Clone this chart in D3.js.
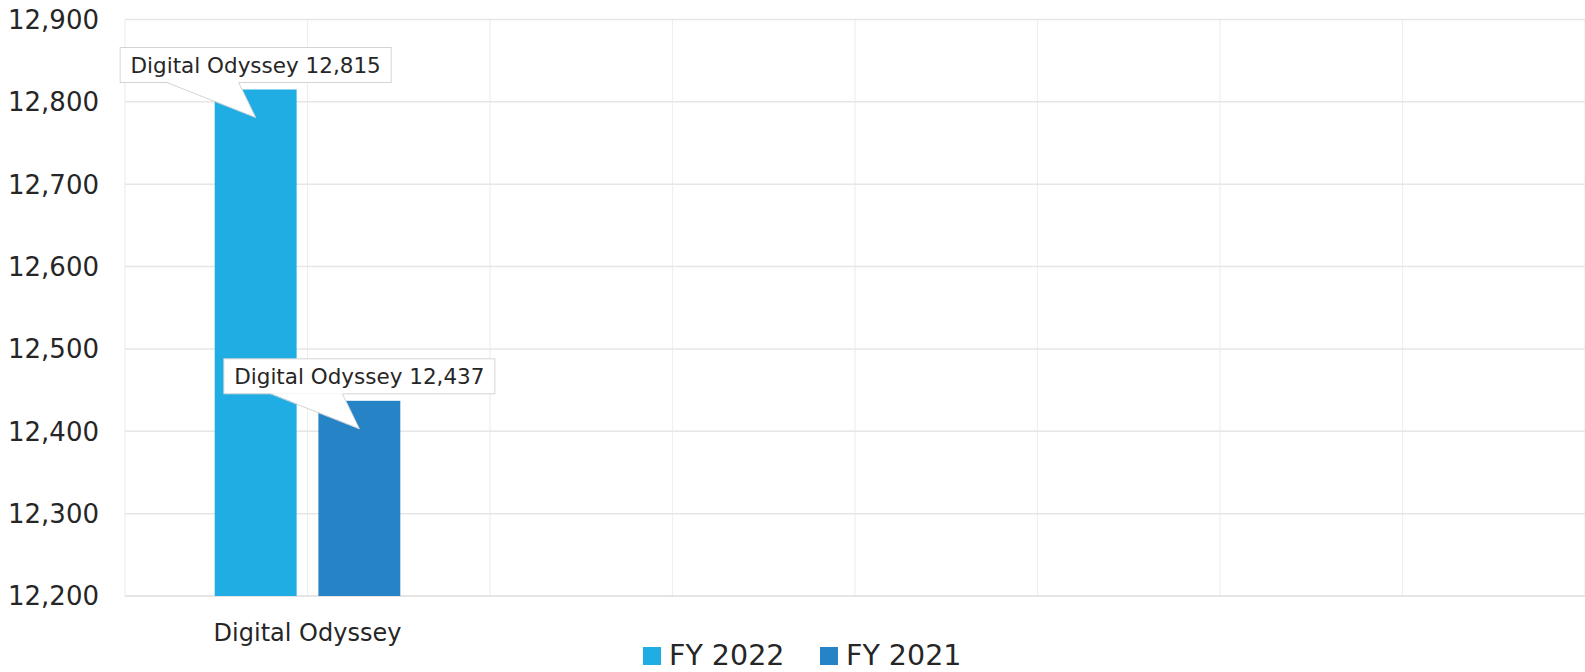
<!DOCTYPE html>
<html>
<head>
<meta charset="utf-8">
<script src="https://cdn.jsdelivr.net/npm/d3@7"></script>
<style>
  html, body { margin: 0; padding: 0; background: #fff; }
  svg text { font-family: "DejaVu Sans", sans-serif; fill: #262626; }
</style>
</head>
<body>
<svg id="vis"></svg>
<script>
// dados
const categorias = ["Digital Odyssey"];
const series = ["FY 2022", "FY 2021"];
const valores_fy2022 = [12815];
const valores_fy2021 = [12437];
const y_ticks = [12200, 12300, 12400, 12500, 12600, 12700, 12800, 12900];
const cores = ["#1FADE3", "#2683C6"];

const w = 1585;
const h = 672;

const margin = { top: 19.5, bottom: 76, left: 125, right: 0 };
const w_liq = w - margin.left - margin.right;

const $svg = d3.select('#vis')
  .attr('width', w)
  .attr('height', h);

// escala y
const y = d3.scaleLinear()
  .domain([12200, 12900])
  .range([h - margin.bottom, margin.top]);

// o eixo x tem 4 "vagas" de categoria, com grade a cada meia vaga
const n_vagas = 4;
const passo = w_liq / n_vagas;

const x0 = d3.scaleBand()
  .domain(categorias)
  .range([margin.left, margin.left + passo * categorias.length]);

const x1 = d3.scaleBand()
  .domain(series)
  .range([0, x0.bandwidth()])
  .paddingInner(0.21)
  .paddingOuter(0.865);

const xg = d3.scaleLinear()
  .domain([0, n_vagas * 2])
  .range([margin.left, w - margin.right]);

// grade vertical
$svg.append('g')
  .selectAll('line')
  .data(d3.range(0, n_vagas * 2 + 1))
  .join('line')
  .attr('x1', d => xg(d))
  .attr('x2', d => xg(d))
  .attr('y1', y(12900))
  .attr('y2', y(12200))
  .attr('stroke', '#efefef')
  .attr('stroke-width', 1.2);

// grade horizontal
$svg.append('g')
  .selectAll('line')
  .data(y_ticks)
  .join('line')
  .attr('x1', margin.left)
  .attr('x2', w - margin.right)
  .attr('y1', d => y(d))
  .attr('y2', d => y(d))
  .attr('stroke', d => d == 12200 ? '#dcdcdc' : '#e6e6e6')
  .attr('stroke-width', 1.5);

// rótulos do eixo y
$svg.append('g')
  .selectAll('text')
  .data(y_ticks)
  .join('text')
  .attr('x', 99)
  .attr('y', d => y(d))
  .attr('dy', '0.36em')
  .attr('text-anchor', 'end')
  .style('font-size', '26px')
  .text(d => d3.format(',')(d));

// rótulos do eixo x
$svg.append('g')
  .selectAll('text')
  .data(categorias)
  .join('text')
  .attr('x', d => x0(d) + x0.bandwidth() / 2)
  .attr('y', y(12200) + 45)
  .attr('text-anchor', 'middle')
  .style('font-size', '24px')
  .text(d => d);

// barras
const dados_vis = [];
categorias.forEach((c, i) => {
  dados_vis.push({ cat: c, serie: series[0], valor: valores_fy2022[i], cor: cores[0] });
  dados_vis.push({ cat: c, serie: series[1], valor: valores_fy2021[i], cor: cores[1] });
});

$svg.append('g')
  .selectAll('rect')
  .data(dados_vis)
  .join('rect')
  .attr('x', d => x0(d.cat) + x1(d.serie))
  .attr('y', d => y(d.valor))
  .attr('width', x1.bandwidth())
  .attr('height', d => y(12200) - y(d.valor))
  .attr('fill', d => d.cor);

// balões com os valores
const caixa_h = 35;
const caixa_w = 271;
const balao = $svg.append('g')
  .selectAll('g')
  .data(dados_vis)
  .join('g')
  .attr('transform', d => {
    const cx = x0(d.cat) + x1(d.serie) + x1.bandwidth() / 2;
    return `translate(${cx},${y(d.valor)})`;
  });

balao.append('rect')
  .attr('x', -caixa_w / 2)
  .attr('y', -7 - caixa_h)
  .attr('width', caixa_w)
  .attr('height', caixa_h)
  .attr('fill', '#fff')
  .attr('stroke', '#d4d4d4')
  .attr('stroke-width', 1);

// ponteiro
balao.append('path')
  .attr('d', `M-89,-7.5 L0,28 L-17,-7.5 Z`)
  .attr('fill', '#fff')
  .attr('stroke', 'none');

balao.append('path')
  .attr('d', `M-89,-7 L0,28 L-17,-7`)
  .attr('fill', 'none')
  .attr('stroke', '#d4d4d4')
  .attr('stroke-width', 1);

balao.append('text')
  .attr('x', 0)
  .attr('y', -7 - caixa_h / 2)
  .attr('dy', '0.36em')
  .attr('text-anchor', 'middle')
  .style('font-size', '21.5px')
  .text(d => `${d.cat} ${d3.format(',')(d.valor)}`);

// legenda
const leg_x = [643, 820];
const legenda = $svg.append('g')
  .selectAll('g')
  .data(series)
  .join('g')
  .attr('transform', (d, i) => `translate(${leg_x[i]},647)`);

legenda.append('rect')
  .attr('width', 18)
  .attr('height', 18)
  .attr('fill', (d, i) => cores[i]);

legenda.append('text')
  .attr('x', 26)
  .attr('y', 18)
  .style('font-size', '28.5px')
  .text(d => d);
</script>
</body>
</html>
